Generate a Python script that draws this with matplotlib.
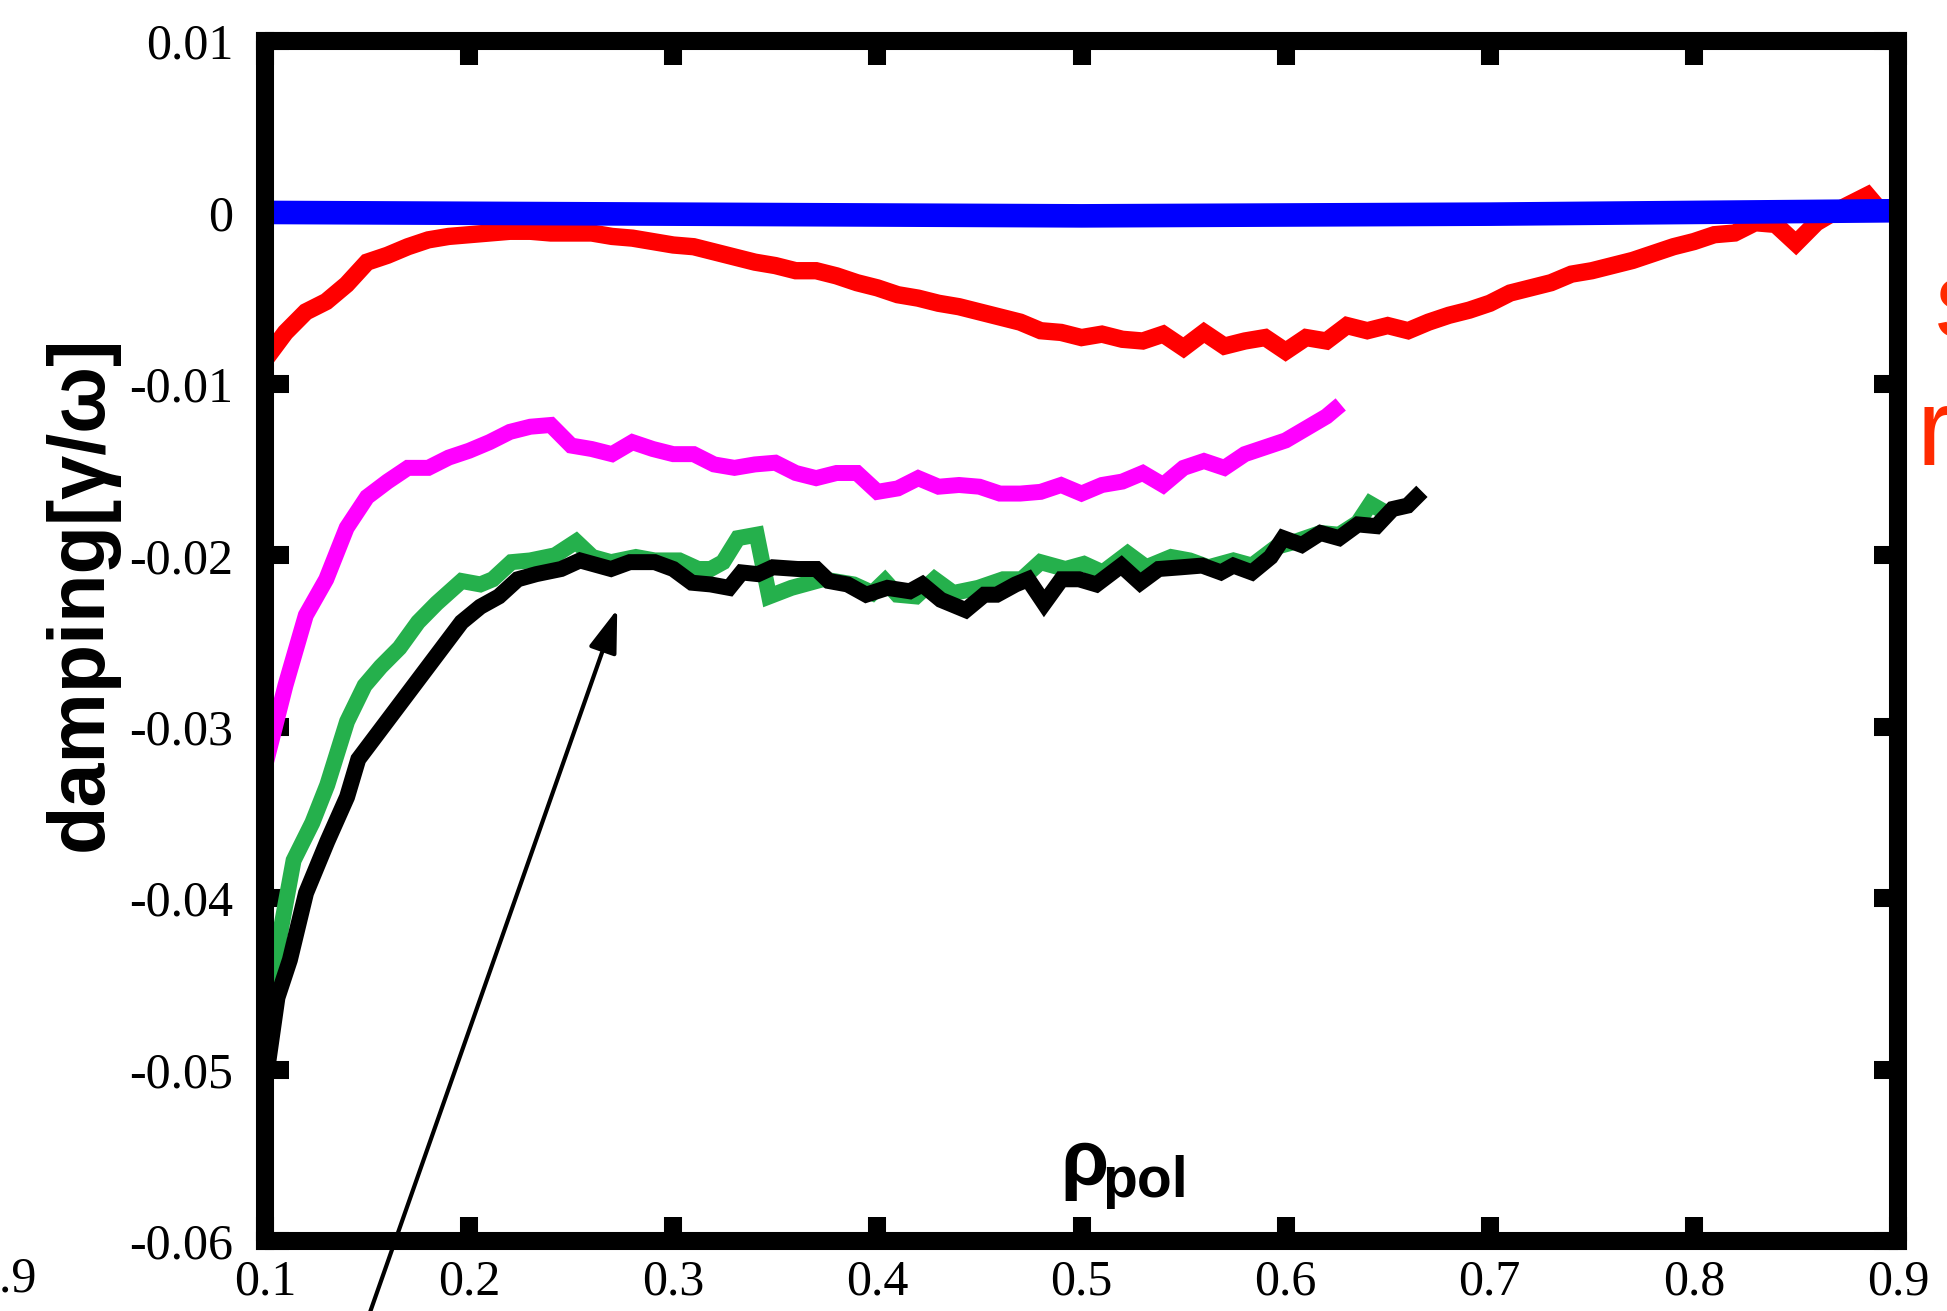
import matplotlib
matplotlib.use("Agg")
import matplotlib.pyplot as plt

# data
x_red = [0.10, 0.11, 0.12, 0.13, 0.14, 0.15, 0.16, 0.17, 0.18, 0.19, 0.20, 0.21, 0.22, 0.23,
         0.24, 0.25, 0.26, 0.27, 0.28, 0.29, 0.30, 0.31, 0.32, 0.33, 0.34, 0.35, 0.36, 0.37,
         0.38, 0.39, 0.40, 0.41, 0.42, 0.43, 0.44, 0.45, 0.46, 0.47, 0.48, 0.49, 0.50, 0.51,
         0.52, 0.53, 0.54, 0.55, 0.56, 0.57, 0.58, 0.59, 0.60, 0.61, 0.62, 0.63, 0.64, 0.65,
         0.66, 0.67, 0.68, 0.69, 0.70, 0.71, 0.72, 0.73, 0.74, 0.75, 0.76, 0.77, 0.78, 0.79,
         0.80, 0.81, 0.82, 0.83, 0.84, 0.85, 0.86, 0.87, 0.88, 0.885, 0.89, 0.90]
y_red = [-0.0086, -0.0070, -0.0058, -0.0052, -0.0042, -0.0029, -0.0025, -0.0020, -0.0016,
         -0.0014, -0.0013, -0.0012, -0.0011, -0.0011, -0.0012, -0.0012, -0.0012, -0.0014,
         -0.0015, -0.0017, -0.0019, -0.0020, -0.0023, -0.0026, -0.0029, -0.0031, -0.0034,
         -0.0034, -0.0037, -0.0041, -0.0044, -0.0048, -0.0050, -0.0053, -0.0055, -0.0058,
         -0.0061, -0.0064, -0.0069, -0.0070, -0.0073, -0.0071, -0.0074, -0.0075, -0.0071,
         -0.0079, -0.0070, -0.0078, -0.0075, -0.0073, -0.0081, -0.0073, -0.0075, -0.0066,
         -0.0069, -0.0066, -0.0069, -0.0064, -0.0060, -0.0057, -0.0053, -0.0047, -0.0044,
         -0.0041, -0.0036, -0.0034, -0.0031, -0.0028, -0.0024, -0.0020, -0.0017, -0.0013,
         -0.0012, -0.0006, -0.0007, -0.0018, -0.0006, 0.0001, 0.0007, 0.0010, 0.0003, 0.0001]

x_mag = [0.10, 0.11, 0.12, 0.13, 0.14, 0.15, 0.16, 0.17, 0.18, 0.19, 0.20, 0.21, 0.22, 0.23,
         0.24, 0.25, 0.26, 0.27, 0.28, 0.29, 0.30, 0.31, 0.32, 0.33, 0.34, 0.35, 0.36, 0.37,
         0.38, 0.39, 0.40, 0.41, 0.42, 0.43, 0.44, 0.45, 0.46, 0.47, 0.48, 0.49, 0.50, 0.51,
         0.52, 0.53, 0.54, 0.55, 0.56, 0.57, 0.58, 0.59, 0.60, 0.61, 0.62, 0.624]
y_mag = [-0.0323, -0.0276, -0.0235, -0.0214, -0.0184, -0.0166, -0.0157, -0.0149, -0.0149,
         -0.0143, -0.0139, -0.0134, -0.0128, -0.0125, -0.0124, -0.0136, -0.0138, -0.0141,
         -0.0134, -0.0138, -0.0141, -0.0141, -0.0147, -0.0149, -0.0147, -0.0146, -0.0152,
         -0.0155, -0.0152, -0.0152, -0.0163, -0.0161, -0.0155, -0.0160, -0.0159, -0.0160,
         -0.0164, -0.0164, -0.0163, -0.0159, -0.0164, -0.0159, -0.0157, -0.0152, -0.0159,
         -0.0149, -0.0145, -0.0149, -0.0141, -0.0137, -0.0133, -0.0126, -0.0119, -0.0115]

x_green = [0.1000, 0.1061, 0.1140, 0.1232, 0.1305, 0.1402, 0.1488, 0.1567, 0.1659, 0.1750,
           0.1841, 0.1963, 0.2055, 0.2116, 0.2207, 0.2299, 0.2421, 0.2524, 0.2604, 0.2695,
           0.2817, 0.2909, 0.3030, 0.3122, 0.3183, 0.3244, 0.3317, 0.3409, 0.3470, 0.3579,
           0.3732, 0.3884, 0.3976, 0.4037, 0.4098, 0.4189, 0.4280, 0.4372, 0.4494, 0.4616,
           0.4707, 0.4799, 0.4921, 0.5012, 0.5104, 0.5226, 0.5317, 0.5439, 0.5530, 0.5622,
           0.5744, 0.5835, 0.5957, 0.6049, 0.6171, 0.6262, 0.6354, 0.6415, 0.6488]
y_green = [-0.0498, -0.0429, -0.0378, -0.0356, -0.0334, -0.0297, -0.0276, -0.0265, -0.0254,
           -0.0239, -0.0228, -0.0215, -0.0217, -0.0214, -0.0204, -0.0203, -0.0200, -0.0192,
           -0.0201, -0.0204, -0.0201, -0.0203, -0.0203, -0.0208, -0.0208, -0.0204, -0.0190,
           -0.0188, -0.0224, -0.0219, -0.0214, -0.0217, -0.0222, -0.0215, -0.0223, -0.0224,
           -0.0214, -0.0222, -0.0219, -0.0214, -0.0214, -0.0204, -0.0208, -0.0205, -0.0210,
           -0.0199, -0.0207, -0.0201, -0.0203, -0.0207, -0.0203, -0.0206, -0.0195, -0.0192,
           -0.0187, -0.0188, -0.0181, -0.0170, -0.0175]

x_black = [0.1000, 0.1061, 0.1122, 0.1201, 0.1305, 0.1402, 0.1457, 0.1963, 0.2055, 0.2146,
           0.2238, 0.2329, 0.2451, 0.2543, 0.2695, 0.2787, 0.2909, 0.3000, 0.3091, 0.3183,
           0.3274, 0.3335, 0.3415, 0.3488, 0.3610, 0.3701, 0.3762, 0.3854, 0.3945, 0.4049,
           0.4159, 0.4220, 0.4311, 0.4433, 0.4524, 0.4585, 0.4677, 0.4738, 0.4817, 0.4902,
           0.4988, 0.5073, 0.5195, 0.5287, 0.5378, 0.5488, 0.5591, 0.5683, 0.5744, 0.5835,
           0.5927, 0.5988, 0.6079, 0.6171, 0.6262, 0.6354, 0.6445, 0.6524, 0.6598, 0.6640]
y_black = [-0.0509, -0.0458, -0.0436, -0.0397, -0.0367, -0.0341, -0.0319, -0.0239, -0.0230,
           -0.0224, -0.0214, -0.0211, -0.0208, -0.0203, -0.0208, -0.0204, -0.0204, -0.0208,
           -0.0216, -0.0217, -0.0219, -0.0210, -0.0211, -0.0207, -0.0208, -0.0208, -0.0215,
           -0.0217, -0.0223, -0.0219, -0.0221, -0.0217, -0.0226, -0.0232, -0.0223, -0.0223,
           -0.0217, -0.0214, -0.0228, -0.0214, -0.0214, -0.0217, -0.0206, -0.0216, -0.0208,
           -0.0207, -0.0206, -0.0210, -0.0206, -0.0210, -0.0201, -0.0190, -0.0194, -0.0187,
           -0.0190, -0.0182, -0.0183, -0.0173, -0.0171, -0.0166]

x_blue = [0.10, 0.30, 0.50, 0.70, 0.90]
y_blue = [0.0000, -0.0001, -0.0002, -0.0001, 0.0001]

xticks = [0.1, 0.2, 0.3, 0.4, 0.5, 0.6, 0.7, 0.8, 0.9]
xticklabels = ['0.1', '0.2', '0.3', '0.4', '0.5', '0.6', '0.7', '0.8', '0.9']
yticks = [-0.06, -0.05, -0.04, -0.03, -0.02, -0.01, 0.0, 0.01]
yticklabels = ['-0.06', '-0.05', '-0.04', '-0.03', '-0.02', '-0.01', '0', '0.01']

W, H = 1947, 1311
fig = plt.figure(figsize=(W / 100, H / 100), dpi=100)
ax = fig.add_axes([265 / W, 1 - 1241 / H, (1898 - 265) / W, (1241 - 41) / H])

ax.plot(x_red, y_red, color='#ff0000', lw=12.5, solid_joinstyle='miter', zorder=3)
ax.plot(x_blue, y_blue, color='#0000ff', lw=17, zorder=4)
ax.plot(x_mag, y_mag, color='#ff00ff', lw=11.5, solid_joinstyle='miter', zorder=3)
ax.plot(x_green, y_green, color='#25b04c', lw=11.5, solid_joinstyle='miter', zorder=3)
ax.plot(x_black, y_black, color='black', lw=11.5, solid_joinstyle='miter', zorder=5)

ax.set_xlim(0.1, 0.9)
ax.set_ylim(-0.06, 0.01)
ax.set_xticks(xticks)
ax.set_xticklabels(xticklabels)
ax.set_yticks(yticks)
ax.set_yticklabels(yticklabels)
for s in ax.spines.values():
    s.set_linewidth(13)
    s.set_zorder(10)
ax.tick_params(direction='in', length=17, width=13, top=True, right=True,
               labelsize=36, pad=13)
ax.tick_params(axis='y', pad=23)
for lab in ax.get_xticklabels() + ax.get_yticklabels():
    lab.set_fontfamily('Liberation Serif')

ax.annotate('', xy=(0.273, -0.0230), xytext=(0.146, -0.0660),
            arrowprops=dict(arrowstyle='-|>,head_length=1.2,head_width=0.4',
                            mutation_scale=22, lw=3, color='black'),
            annotation_clip=False, zorder=6)

# axis labels
fig.text(81 / W, 1 - 593 / H, 'damping[γ/ω]', rotation=90, ha='center', va='center',
         fontsize=57, fontweight='bold', family='Liberation Sans')
fig.text(1060 / W, 1 - 1185 / H, 'ρ', ha='left', va='baseline',
         fontsize=56, fontweight='bold', family='Liberation Sans')
fig.text(1102 / W, 1 - 1197 / H, 'pol', ha='left', va='baseline',
         fontsize=41, fontweight='bold', family='Liberation Sans')

# pieces of neighbouring panels that are cut off at the edges
fig.text(36 / W, 1 - 1279 / H, '0.9', ha='right', va='center',
         fontsize=36, family='Liberation Serif')
fig.text(1935 / W, 1 - 337 / H, 's', ha='left', va='baseline',
         fontsize=79, color='#ff2a00', family='Liberation Sans')
fig.text(1916 / W, 1 - 465 / H, 'r', ha='left', va='baseline',
         fontsize=79, color='#ff2a00', family='Liberation Sans')

fig.savefig('out.png', dpi=100)
